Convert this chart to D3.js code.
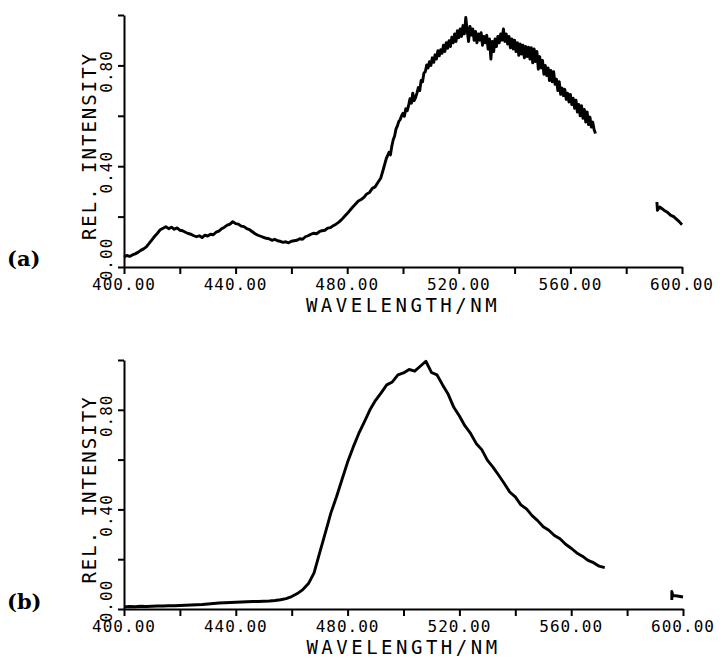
<!DOCTYPE html>
<html>
<head>
<meta charset="utf-8">
<style>
  body { margin: 0; background: #fff; }
  .axis path, .axis line { fill: none; stroke: #000; stroke-width: 2px; }
  .tick-label { font: 16px "DejaVu Sans Mono", monospace; letter-spacing: 1px; fill: #000; }
  .axis-title { font: 19px "DejaVu Sans Mono", monospace; fill: #000; }
  .panel-label { font: bold 21px "DejaVu Serif", serif; fill: #000; }
  .trace { fill: none; stroke: #000; stroke-width: 2.9px; stroke-linejoin: round; }
</style>
</head>
<body>
<script src="https://cdn.jsdelivr.net/npm/d3@7"></script>
<script>

// wavelength ticks (nm) and intensity ticks
var xTicks = [400, 420, 440, 460, 480, 500, 520, 540, 560, 580, 600];
var xTickLabels = [400, 440, 480, 520, 560, 600];
var yTicks = [0, 0.2, 0.4, 0.6, 0.8, 1.0];
var yTickLabels = [0, 0.4, 0.8];

// (a) spectrum, 1 nm steps from 400 to 495 nm
var aLowStart = 400, aLowStep = 1;
var aLowValues = [
  .040, .046, .042, .048, .052, .058, .066, .072, .080, .094,
  .108, .122, .134, .148, .154, .160, .152, .158, .150, .155,
  .146, .144, .138, .133, .130, .124, .120, .124, .117, .126,
  .123, .130, .128, .138, .142, .152, .158, .166, .170, .180,
  .172, .170, .162, .160, .152, .148, .140, .132, .126, .122,
  .118, .114, .112, .106, .110, .104, .102, .098, .100, .096,
  .102, .104, .106, .112, .110, .120, .124, .130, .134, .132,
  .140, .144, .146, .154, .156, .164, .170, .178, .188, .200,
  .212, .225, .238, .250, .262, .268, .276, .290, .296, .312,
  .318, .335, .352, .390, .430, .455
];
// (a) noisy part, 0.5 nm steps from 495.5 to 569 nm
var aHighStart = 495.5, aHighStep = 0.5;
var aHighValues = [
  .445, .480, .505, .520, .548, .560, .578, .585, .600, .610,
  .598, .628, .620, .640, .668, .650, .690, .660, .672, .690,
  .712, .700, .740, .735, .770, .775, .802, .790, .815, .800,
  .830, .812, .842, .825, .858, .838, .862, .848, .880, .855,
  .890, .868, .898, .875, .912, .890, .925, .895, .938, .910,
  .945, .915, .958, .925, .990, .940, .895, .955, .920, .945,
  .900, .935, .890, .925, .900, .930, .880, .915, .890, .920,
  .865, .905, .825, .895, .855, .905, .875, .915, .890, .925,
  .900, .945, .895, .925, .885, .915, .870, .905, .865, .900,
  .855, .890, .840, .885, .845, .880, .830, .875, .835, .872,
  .825, .870, .810, .865, .815, .855, .785, .835, .790, .820,
  .765, .800, .760, .790, .740, .780, .735, .775, .725, .745,
  .700, .735, .685, .710, .680, .705, .665, .690, .655, .685,
  .645, .670, .630, .662, .615, .645, .600, .640, .590, .625,
  .575, .615, .565, .595, .555, .575, .545, .530
];
// (a) short piece near 600 nm
var aTailNm  = [591, 591.2, 592, 593, 594, 595, 596, 597, 598, 599, 600];
var aTailVal = [.258, .225, .238, .230, .222, .215, .205, .200, .190, .180, .168];

// (b) spectrum, 2 nm steps from 400 to 572 nm
var bStart = 400, bStep = 2;
var bValues = [
  .008, .010, .009, .011, .010, .011, .012, .012, .013, .013,
  .014, .015, .016, .017, .018, .020, .022, .024, .025, .026,
  .027, .028, .029, .030, .030, .031, .032, .034, .037, .042,
  .050, .062, .078, .102, .145, .225, .305, .385, .450, .520,
  .590, .650, .705, .752, .800, .838, .868, .900, .912, .940,
  .948, .962, .955, .975, .995, .950, .940, .900, .862, .810,
  .775, .735, .705, .665, .640, .598, .570, .538, .505, .470,
  .450, .418, .402, .375, .355, .330, .316, .295, .282, .260,
  .244, .225, .212, .195, .186, .172, .166
];
var bTailNm  = [596, 596, 596.4, 598, 600];
var bTailVal = [.036, .070, .054, .052, .048];

function series(start, step, vals) {
  return vals.map(function(v, i) { return [start + i * step, v]; });
}
function pairs(nm, vals) {
  return nm.map(function(n, i) { return [n, vals[i]]; });
}

var panels = [
  { name: "(a)", left: 124, right: 682, top: 15, bottom: 267, labelY: 266,
    segments: [series(aLowStart, aLowStep, aLowValues).concat(series(aHighStart, aHighStep, aHighValues)),
               pairs(aTailNm, aTailVal)] },
  { name: "(b)", left: 124, right: 683, top: 360, bottom: 609, labelY: 609,
    segments: [series(bStart, bStep, bValues), pairs(bTailNm, bTailVal)] }
];

var svg = d3.select("body").append("svg")
    .attr("width", 723)
    .attr("height", 664);

panels.forEach(function(p) {
  var x = d3.scaleLinear().domain([400, 600]).range([p.left, p.right]);
  var y = d3.scaleLinear().domain([0, 1]).range([p.bottom, p.top]);
  var g = svg.append("g");

  g.append("g")
      .attr("class", "axis")
      .attr("transform", "translate(0," + p.bottom + ")")
      .call(d3.axisBottom(x).tickValues(xTicks).tickSize(7).tickSizeOuter(0).tickFormat(""));

  g.append("g")
      .attr("class", "axis")
      .attr("transform", "translate(" + p.left + ",0)")
      .call(d3.axisLeft(y).tickValues(yTicks).tickSize(6).tickSizeOuter(0).tickFormat(""));

  g.selectAll(".xl")
    .data(xTickLabels)
    .enter().append("text")
      .attr("class", "tick-label")
      .attr("x", function(d) { return x(d); })
      .attr("y", p.bottom + 23)
      .attr("text-anchor", "middle")
      .text(function(d) { return d.toFixed(2); });

  // the 0.00 label sits a little above the corner, the others just below their tick
  g.selectAll(".yl")
    .data(yTickLabels)
    .enter().append("text")
      .attr("class", "tick-label")
      .attr("transform", function(d) {
        var off = d === 0 ? -8 : 6;
        return "translate(" + (p.left - 12) + "," + (y(d) + off) + ") rotate(-90)";
      })
      .attr("text-anchor", "middle")
      .text(function(d) { return d.toFixed(2); });

  g.append("text")
      .attr("class", "axis-title")
      .attr("x", (p.left + p.right) / 2)
      .attr("y", p.bottom + 45)
      .attr("text-anchor", "middle")
      .style("letter-spacing", "3.5px")
      .text("WAVELENGTH/NM");

  g.append("text")
      .attr("class", "axis-title")
      .attr("transform", "translate(" + (p.left - 28) + "," + ((p.top + p.bottom) / 2 + 5) + ") rotate(-90)")
      .attr("text-anchor", "middle")
      .style("letter-spacing", "2px")
      .text("REL. INTENSITY");

  g.append("text")
      .attr("class", "panel-label")
      .attr("x", 7)
      .attr("y", p.labelY)
      .text(p.name);

  var line = d3.line()
      .x(function(d) { return x(d[0]); })
      .y(function(d) { return y(d[1]); });

  g.selectAll(".trace")
    .data(p.segments)
    .enter().append("path")
      .attr("class", "trace")
      .attr("d", line);
});
</script>
</body>
</html>
